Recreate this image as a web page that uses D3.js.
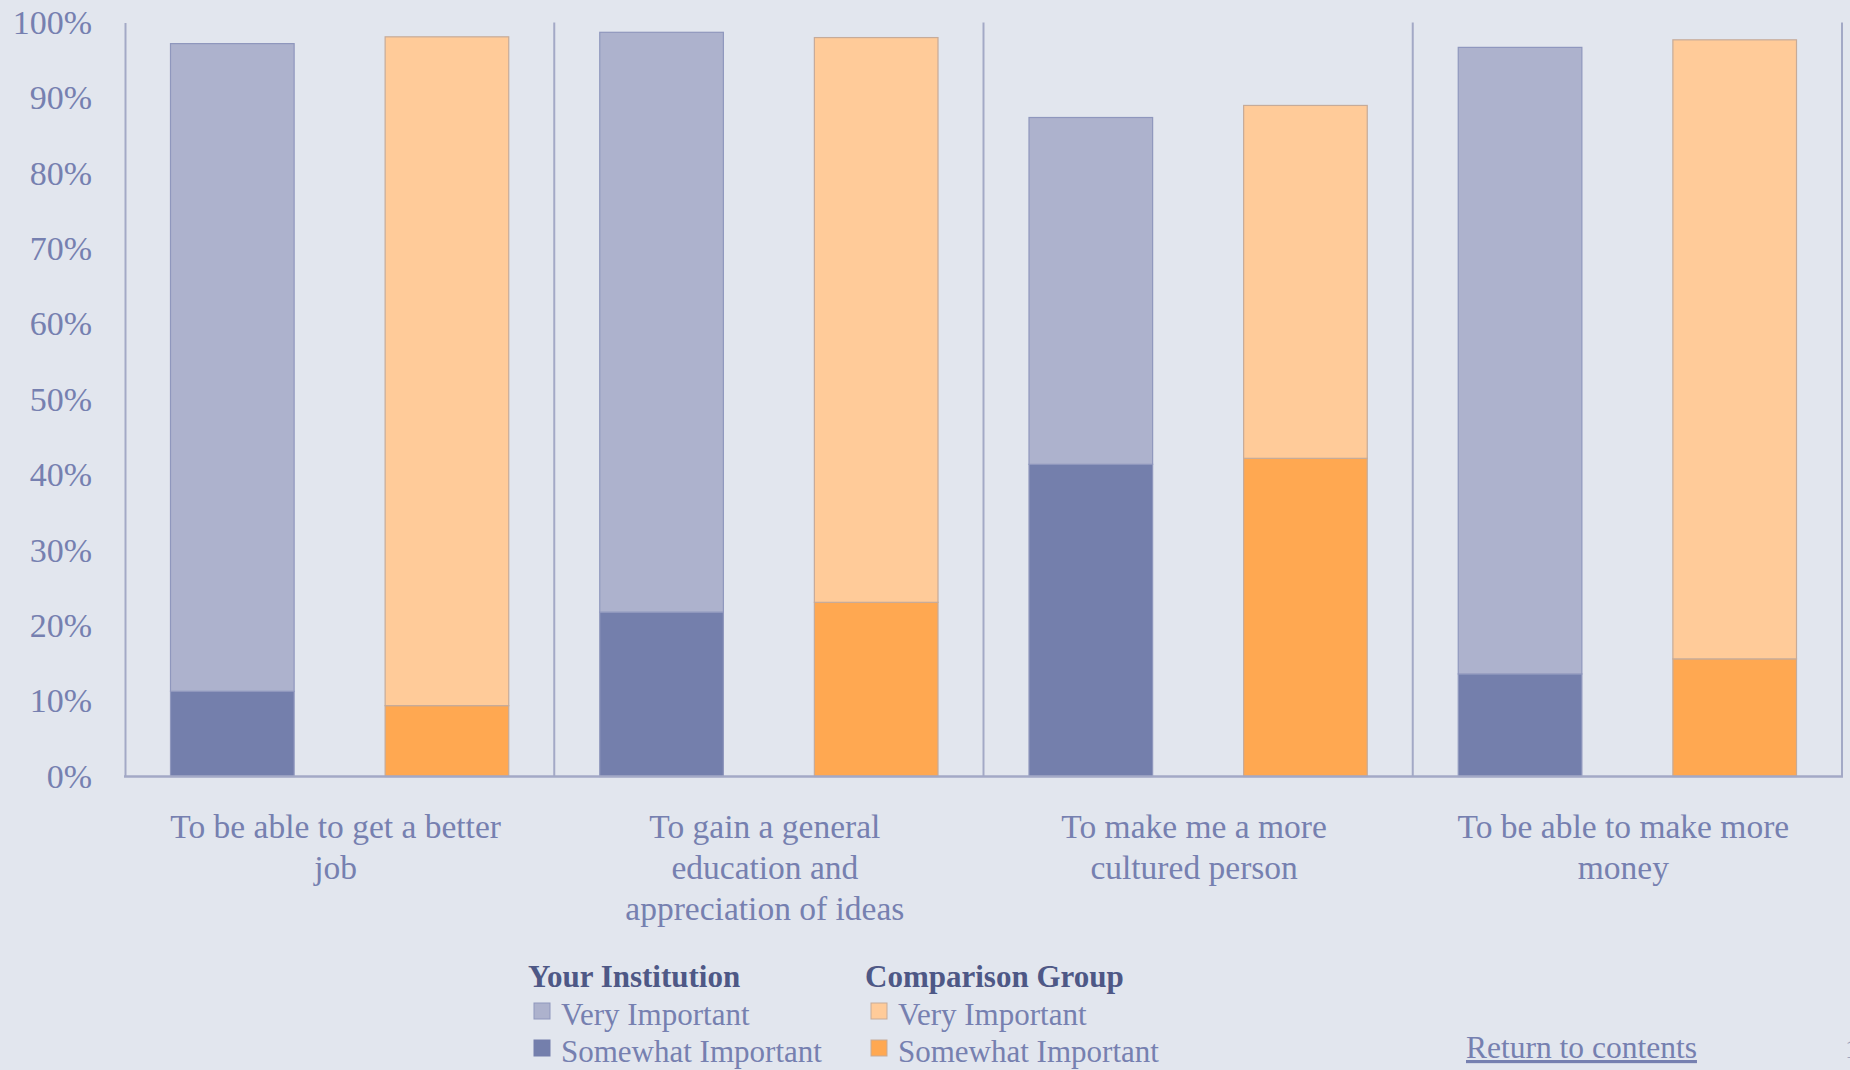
<!DOCTYPE html>
<html>
<head>
<meta charset="utf-8">
<script src="https://cdn.jsdelivr.net/npm/d3@7"></script>
<style>
  html, body { margin: 0; padding: 0; background: #e2e6ee; }
  svg { display: block; }
  text { font-family: "Liberation Serif", "Times New Roman", serif; }
</style>
</head>
<body>
<svg id="chart" width="1850" height="1070"></svg>
<script>
// Reasons for attending college: share rating each reason as important
const categories = [
  ["To be able to get a better", "job"],
  ["To gain a general", "education and", "appreciation of ideas"],
  ["To make me a more", "cultured person"],
  ["To be able to make more", "money"]
];
const groups = ["Your Institution", "Comparison Group"];

// Percent answering "Somewhat Important" (bottom segment)
const instSomewhat = [11.3, 21.8, 41.4, 13.6];
const compSomewhat = [9.4, 23.1, 42.2, 15.6];
// Percent answering "Very Important" (stacked on top)
const instVery = [85.9, 76.9, 46.0, 83.1];
const compVery = [88.7, 74.9, 46.8, 82.1];

const yTicks = [0, 10, 20, 30, 40, 50, 60, 70, 80, 90, 100];

const colors = {
  instVery: "#adb2cd", instSome: "#747fac", instStroke: "#8f97bd",
  compVery: "#ffcb99", compSome: "#ffa851", compStroke: "#c6ab99",
  axis: "#a3a9c6", text: "#7680b0", head: "#4e5886", bg: "#e2e6ee"
};

const svg = d3.select("#chart");
const margin = { left: 125, right: 8, top: 22.5, bottom: 293.5 };
const W = 1850, H = 1070;
const x0 = margin.left, x1 = W - margin.right;
const yTop = margin.top, yBot = H - margin.bottom;

svg.append("rect").attr("width", W).attr("height", H).attr("fill", colors.bg);

const xGroup = d3.scaleBand().domain(d3.range(categories.length)).range([x0, x1]).padding(0);
const xInner = d3.scaleBand().domain(groups).range([0, xGroup.bandwidth()])
  .paddingInner(0.424).paddingOuter(0.212);
const y = d3.scaleLinear().domain([0, 100]).range([yBot, yTop]);

// Build stacked rows
const rows = [];
categories.forEach((c, i) => {
  rows.push({ cat: i, grp: groups[0], lo: 0, hi: instSomewhat[i], fill: colors.instSome, stroke: colors.instStroke });
  rows.push({ cat: i, grp: groups[0], lo: instSomewhat[i], hi: instSomewhat[i] + instVery[i], fill: colors.instVery, stroke: colors.instStroke });
  rows.push({ cat: i, grp: groups[1], lo: 0, hi: compSomewhat[i], fill: colors.compSome, stroke: colors.compStroke });
  rows.push({ cat: i, grp: groups[1], lo: compSomewhat[i], hi: compSomewhat[i] + compVery[i], fill: colors.compVery, stroke: colors.compStroke });
});

svg.append("g").selectAll("rect").data(rows).join("rect")
  .attr("x", d => xGroup(d.cat) + xInner(d.grp))
  .attr("width", xInner.bandwidth())
  .attr("y", d => y(d.hi))
  .attr("height", d => y(d.lo) - y(d.hi))
  .attr("fill", d => d.fill)
  .attr("stroke", d => d.stroke)
  .attr("stroke-width", 1.2);

// Category separators (full height) and the right edge
const seps = d3.range(1, categories.length + 1).map(i => i === categories.length ? x1 : xGroup(i));
svg.append("g").selectAll("line").data(seps).join("line")
  .attr("x1", d => d).attr("x2", d => d)
  .attr("y1", yTop).attr("y2", yBot)
  .attr("stroke", colors.axis).attr("stroke-width", 2);

// Y axis
const yAxis = d3.axisLeft(y).tickValues(yTicks).tickSize(0).tickPadding(33)
  .tickFormat(d => d + "%");
const gy = svg.append("g").attr("transform", `translate(${x0},0)`).call(yAxis)
  .attr("font-family", "'Liberation Serif', serif").attr("font-size", 34);
gy.select(".domain").attr("stroke", colors.axis).attr("stroke-width", 2);
gy.selectAll("text").attr("fill", colors.text);

// X baseline
svg.append("line").attr("x1", x0 - 1).attr("x2", x1 + 1).attr("y1", yBot).attr("y2", yBot)
  .attr("stroke", colors.axis).attr("stroke-width", 2.5);

// Category labels
const catG = svg.append("g").selectAll("text").data(categories).join("text")
  .attr("x", (d, i) => xGroup(i) + xGroup.bandwidth() / 2 - 4)
  .attr("y", 838)
  .attr("text-anchor", "middle")
  .attr("fill", colors.text)
  .style("font-size", "33.5px");
catG.selectAll("tspan").data(d => d).join("tspan")
  .attr("x", function () { return d3.select(this.parentNode).attr("x"); })
  .attr("dy", (d, i) => i === 0 ? 0 : 41)
  .text(d => d);

// Legend
const legendCols = [
  { title: groups[0], x: 528, items: [["Very Important", colors.instVery, colors.instStroke], ["Somewhat Important", colors.instSome, colors.instSome]] },
  { title: groups[1], x: 865, items: [["Very Important", colors.compVery, colors.compStroke], ["Somewhat Important", colors.compSome, colors.compStroke]] }
];
const lg = svg.append("g").selectAll("g").data(legendCols).join("g")
  .attr("transform", d => `translate(${d.x},0)`);
lg.append("text").attr("x", 0).attr("y", 987)
  .attr("fill", colors.head).style("font-size", "31px").style("font-weight", "bold")
  .text(d => d.title);
const li = lg.selectAll("g.item").data(d => d.items).join("g").attr("class", "item")
  .attr("transform", (d, i) => `translate(0,${i * 37})`);
li.append("rect").attr("x", 6).attr("y", 1003).attr("width", 16).attr("height", 16)
  .attr("fill", d => d[1]).attr("stroke", d => d[2]).attr("stroke-width", 1);
li.append("text").attr("x", 33).attr("y", 1025)
  .attr("fill", colors.text).style("font-size", "31px").text(d => d[0]);

// Link back to the contents page
svg.append("text").attr("x", 1466).attr("y", 1058)
  .attr("fill", colors.text).style("font-size", "31.5px")
  .style("text-decoration", "underline")
  .text("Return to contents");
svg.append("text").attr("x", 1845).attr("y", 1058)
  .attr("fill", "#9aa0bb").style("font-size", "28px").text("1");
</script>
</body>
</html>
